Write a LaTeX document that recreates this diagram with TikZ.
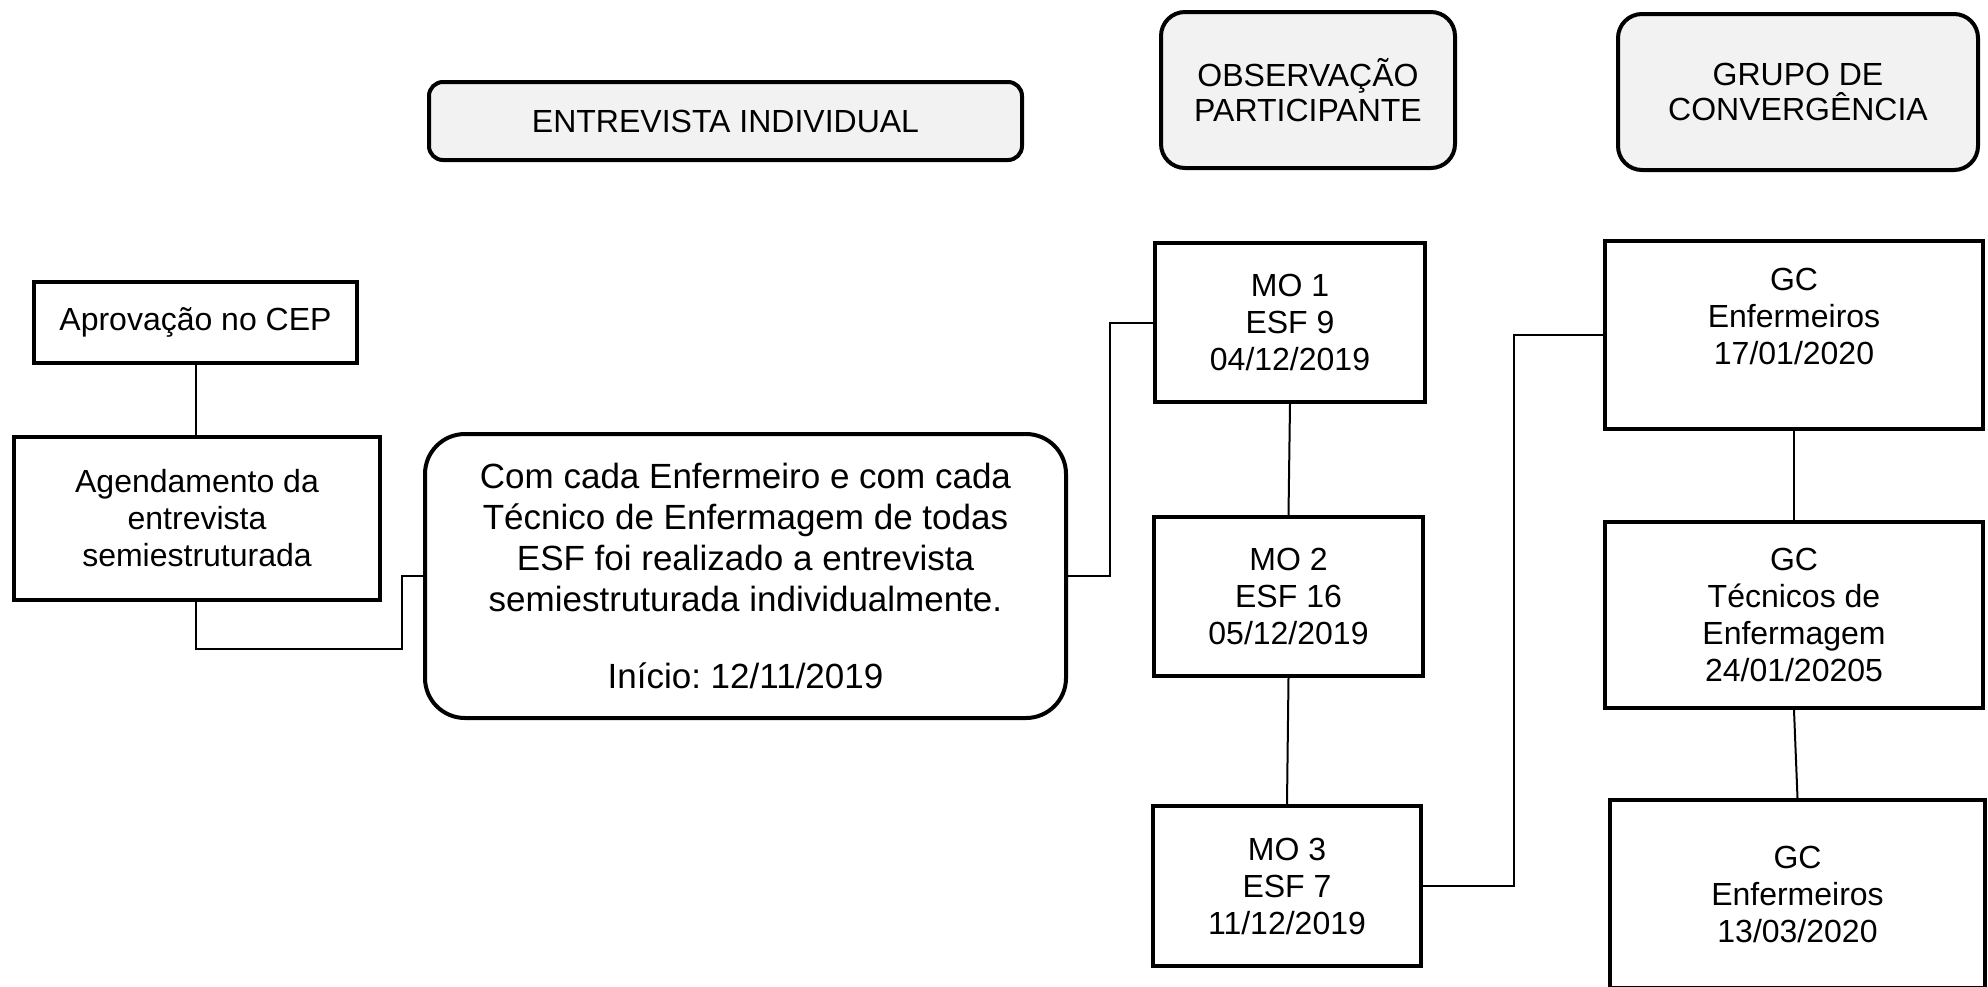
\documentclass[tikz,border=0pt]{standalone}
\usepackage{fontspec}
\setmainfont{Liberation Sans}
\frenchspacing
\begin{document}
\begin{tikzpicture}[x=0.5pt,y=-0.5pt,
  stepbox/.style={draw=black,line width=2pt,fill=white,inner sep=0pt,align=center,
    font=\fontsize{16}{18.5}\selectfont},
  headbox/.style={draw=black,line width=2pt,fill=headgray,inner sep=0pt,align=center,
    font=\fontsize{16}{17.5}\selectfont},
  conn/.style={draw=black,line width=1pt}]
\definecolor{headgray}{HTML}{F2F2F2}
\useasboundingbox (0,0) rectangle (1988,986);
% headers
\node[headbox,rounded corners=7pt,minimum width=296.5pt,minimum height=39pt] (ei) at (725.5,121) {ENTREVISTA INDIVIDUAL};
\node[headbox,rounded corners=12pt,minimum width=147pt,minimum height=78pt] (obs) at (1308,90) {OBSERVAÇÃO\\PARTICIPANTE};
\node[headbox,rounded corners=12pt,minimum width=180pt,minimum height=78pt] (gch) at (1798,92) {GRUPO DE\\CONVERGÊNCIA};
% left column
\node[stepbox,minimum width=161.5pt,minimum height=40.5pt] (aprov) at (195.5,322.5) {Aprovação no CEP};
\node[stepbox,minimum width=183pt,minimum height=81.5pt] (agend) at (197,518.5) {Agendamento da\\entrevista\\semiestruturada};
\node[stepbox,rounded corners=20pt,minimum width=320.5pt,minimum height=142pt,
  font=\fontsize{17.5}{20.5}\selectfont] (big) at (745.5,576)
  {Com cada Enfermeiro e com cada\\Técnico de Enfermagem de todas\\ESF foi realizado a entrevista\\semiestruturada individualmente.\\[18pt]Início:\ 12/11/2019};
% MO column
\node[stepbox,minimum width=135pt,minimum height=79.5pt] (mo1) at (1290,322.5) {MO 1\\ESF 9\\04/12/2019};
\node[stepbox,minimum width=134.5pt,minimum height=79.5pt] (mo2) at (1288.5,596.5) {MO 2\\ESF 16\\05/12/2019};
\node[stepbox,minimum width=134pt,minimum height=80pt] (mo3) at (1287,886) {MO 3\\ESF 7\\11/12/2019};
% GC column
\node[stepbox,minimum width=189pt,minimum height=94pt] (gc1) at (1794,335) {GC\\Enfermeiros\\17/01/2020\\\mbox{}};
\node[stepbox,minimum width=189pt,minimum height=93pt] (gc2) at (1794,615) {GC\\Técnicos de\\Enfermagem\\24/01/20205};
\node[stepbox,minimum width=187.5pt,minimum height=94pt] (gc3) at (1797.5,894) {GC\\Enfermeiros\\13/03/2020};
% elbow coordinates
\coordinate (e1) at (402,649);
\coordinate (e2) at (1110,0);
\coordinate (e3) at (1514,0);
% connectors
\draw[conn] (aprov.south) -- (aprov.south |- agend.north);
\draw[conn] (aprov.south |- agend.south) |- (e1) |- (big.west);
\draw[conn] (big.east) -- (big.east -| e2) |- (mo1.west);
\draw[conn] (mo1.south) -- (mo2.north);
\draw[conn] (mo2.south) -- (mo3.north);
\draw[conn] (mo3.east) -- (mo3.east -| e3) |- (gc1.west);
\draw[conn] (gc1.south) -- (gc2.north);
\draw[conn] (gc2.south) -- (gc3.north);
\end{tikzpicture}
\end{document}
